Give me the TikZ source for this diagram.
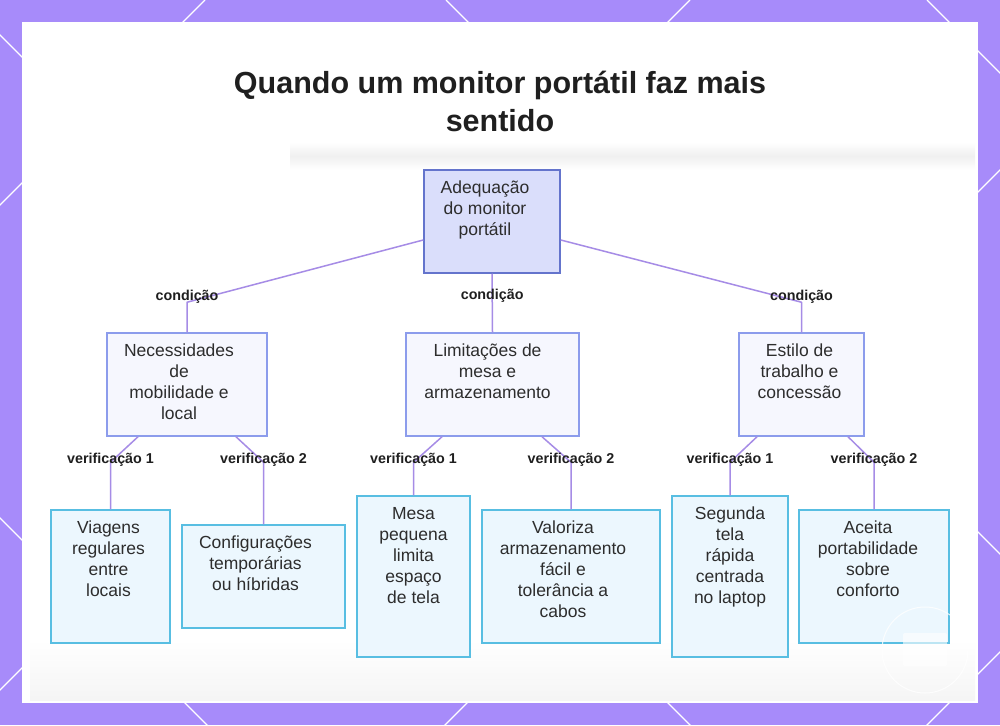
\documentclass[tikz,border=0pt]{standalone}
\usepackage{fontspec}
\setmainfont{Liberation Sans}
\usepackage{xcolor}
\definecolor{mypurple}{RGB}{167,139,250}
\definecolor{myline}{RGB}{166,140,230}
\definecolor{rootfill}{RGB}{218,222,251}
\definecolor{rootdraw}{RGB}{100,116,204}
\definecolor{catfill}{RGB}{246,247,254}
\definecolor{catdraw}{RGB}{140,156,236}
\definecolor{leaffill}{RGB}{236,247,254}
\definecolor{leafdraw}{RGB}{88,190,226}
\definecolor{mytext}{RGB}{45,45,45}
\newcommand{\boxtxt}[4][0pt]{\parbox[t][#3][t]{#2}{\hspace*{-#1}\parbox[t]{#2}{\centering\strut#4}}}

\begin{document}
\begin{tikzpicture}[x=1pt,y=-1pt,
  box/.style={draw, line width=1.5pt, inner xsep=4pt, inner ysep=9pt,
    font=\fontsize{17.5}{21}\selectfont, text=mytext},
  rootbox/.style={box, fill=rootfill, draw=rootdraw},
  catbox/.style={box, fill=catfill, draw=catdraw},
  leafbox/.style={box, fill=leaffill, draw=leafdraw},
  conn/.style={draw=myline, line width=1.5pt, line join=round},
  lbl/.style={font=\fontsize{14.3}{16}\selectfont\bfseries, text=black!88, inner sep=1pt},
  titletxt/.style={font=\fontsize{30.5}{38}\selectfont\bfseries, text=black!88, align=center}
]
\useasboundingbox (0,0) rectangle (1000,725);
\fill[mypurple] (0,0) rectangle (1000,725);
\begin{scope}
\clip (0,0) rectangle (1000,725);
\foreach \c in {205,690,1170,1652}{
\draw[white, line width=1.3pt] (\c,0) -- +(-1000,1000);
}
\foreach \d in {-518,-35,446,927}{
\draw[white, line width=1.3pt] (\d,0) -- +(1000,1000);
}
\end{scope}
\fill[white] (22,22) rectangle (978,703);
\shade[top color=white, bottom color=white, middle color=black!6] (290,142) rectangle (975,170);
\shade[top color=white, bottom color=black!4] (30,640) rectangle (975,700);

\node[titletxt, anchor=base] (titulo) at (500,131) {Quando um monitor portátil faz mais\\sentido};

\node[rootbox] (ade) at (492,221.5) {\boxtxt[7pt]{128pt}{85pt}{Adequação\\do monitor\\portátil}};

\node[catbox] (nec) at (187,384.5) {\boxtxt[8pt]{152pt}{85pt}{Necessidades\\de\\mobilidade e\\local}};
\node[catbox] (lim) at (492.5,384.5) {\boxtxt[5pt]{165pt}{85pt}{Limitações de\\mesa e\\armazenamento}};
\node[catbox] (est) at (801.5,384.5) {\boxtxt[2pt]{117pt}{85pt}{Estilo de\\trabalho e\\concessão}};

\node[leafbox] (via) at (110.5,576.5) {\boxtxt[2pt]{111pt}{115pt}{Viagens\\regulares\\entre\\locais}};
\node[leafbox] (cfg) at (263.5,576.5) {\boxtxt[8pt]{155pt}{85pt}{Configurações\\temporárias\\ou híbridas}};
\node[leafbox] (mes) at (413.5,576.5) {\boxtxt{105pt}{143pt}{Mesa\\pequena\\limita\\espaço\\de tela}};
\node[leafbox] (val) at (571,576.5) {\boxtxt[8pt]{170pt}{115pt}{Valoriza\\armazenamento\\fácil e\\tolerância a\\cabos}};
\node[leafbox] (seg) at (730,576.5) {\boxtxt{108pt}{143pt}{Segunda\\tela\\rápida\\centrada\\no laptop}};
\node[leafbox] (ace) at (874,576.5) {\boxtxt[6pt]{142pt}{115pt}{Aceita\\portabilidade\\sobre\\conforto}};

\draw[conn] ([yshift=-18.5pt]ade.west) -- ([yshift=30pt]nec.north) node[lbl, yshift=5pt] (c1) {condição} -- (nec.north);
\draw[conn] (ade.south) -- node[lbl, pos=0.37] (c2) {condição} (lim.north);
\draw[conn] ([yshift=-18.5pt]ade.east) -- ([yshift=30pt]est.north) node[lbl, yshift=5pt] (c3) {condição} -- (est.north);

\draw[conn] ([xshift=-49pt]nec.south) -- ([yshift=47pt]via.north) node[lbl, yshift=2pt] (v1) {verificação 1} -- (via.north);
\draw[conn] ([xshift=49pt]nec.south) -- ([yshift=62pt]cfg.north) node[lbl, yshift=2pt] (v2) {verificação 2} -- (cfg.north);
\draw[conn] ([xshift=-50.5pt]lim.south) -- ([yshift=33pt]mes.north) node[lbl, yshift=2pt] (v3) {verificação 1} -- (mes.north);
\draw[conn] ([xshift=49.5pt]lim.south) -- ([yshift=47pt]val.north) node[lbl, yshift=2pt] (v4) {verificação 2} -- (val.north);
\draw[conn] ([xshift=-44.5pt]est.south) -- ([yshift=33pt]seg.north) node[lbl, yshift=2pt] (v5) {verificação 1} -- (seg.north);
\draw[conn] ([xshift=46.5pt]est.south) -- ([yshift=47pt]ace.north) node[lbl, yshift=2pt] (v6) {verificação 2} -- (ace.north);

\draw[white, line width=1pt, opacity=0.8] (925,650) circle (43);
\fill[white, opacity=0.6, rounded corners=2pt] (903,633) rectangle (947,666);
\end{tikzpicture}
\end{document}
